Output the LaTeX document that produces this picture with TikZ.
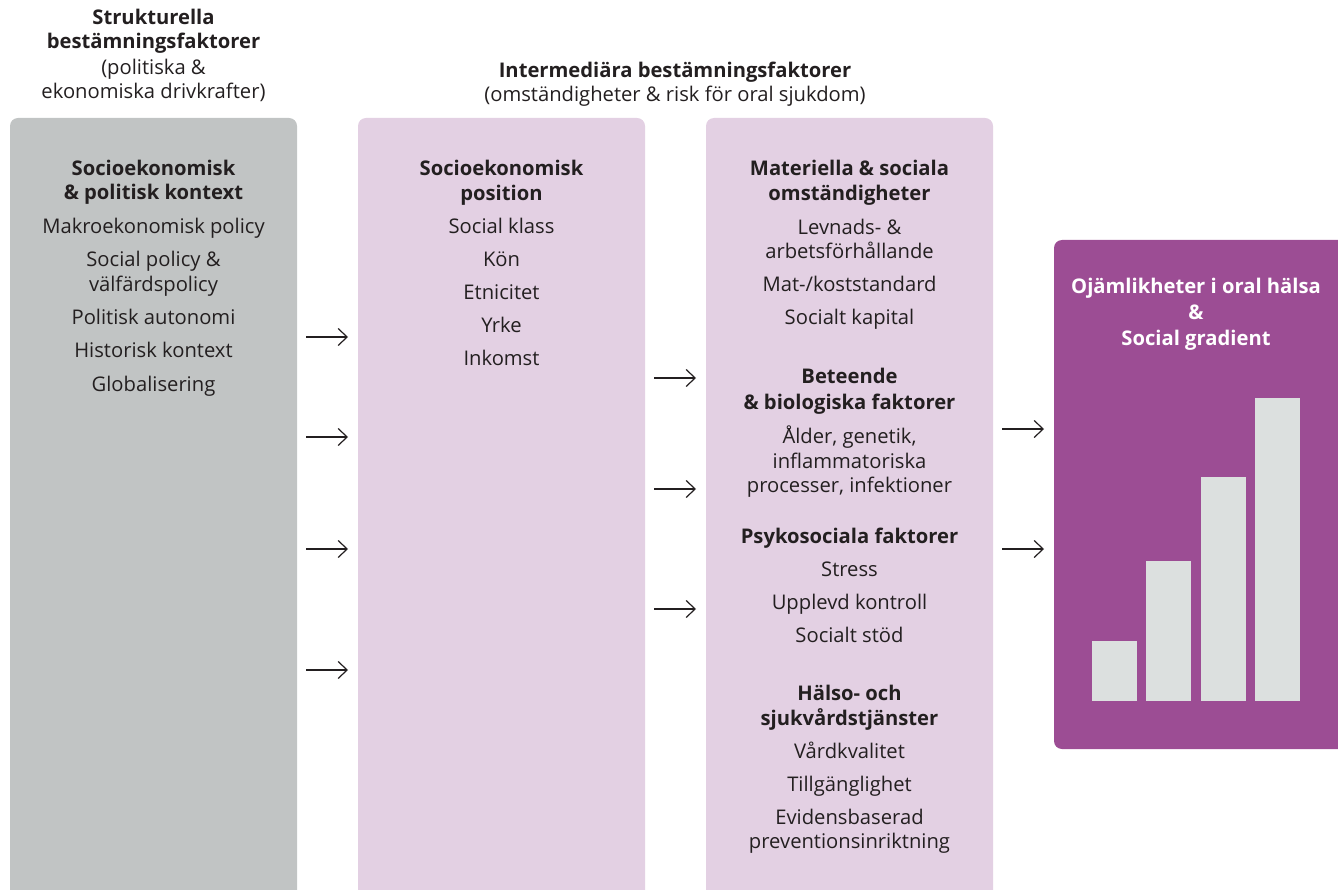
\documentclass[tikz,border=0pt]{standalone}
\usepackage{fontspec}
\setmainfont{Open Sans}
\usetikzlibrary{arrows.meta}
\definecolor{txt}{HTML}{231F20}
\definecolor{panelgray}{HTML}{C1C4C4}
\definecolor{panelpink}{HTML}{E3D0E3}
\definecolor{panelpurple}{HTML}{9C4D94}
\definecolor{barc}{HTML}{DCE0DF}
\begin{document}
\begin{tikzpicture}[x=1pt,y=-1pt,
  it/.style={anchor=base, font=\fontsize{20.2}{24}\selectfont, text=txt, inner sep=0pt},
  hd/.style={it, font=\fontsize{20.2}{24}\selectfont\bfseries},
  wh/.style={anchor=base, font=\fontsize{20.2}{24}\selectfont\bfseries, text=white, inner sep=0pt},
  panel/.style={rounded corners=8pt, inner sep=0pt, draw=none},
  bar/.style={fill=barc, draw=none},
  arr/.style={-{Straight Barb[length=9pt,width=17pt]}, line width=1.2pt, draw=txt}]
\useasboundingbox (0,0) rectangle (1338,890);
\clip (0,0) rectangle (1338,890);
% panels
\node[panel, fill=panelgray, minimum width=287pt, minimum height=792pt] (g) at (153.5,514) {};
\node[panel, fill=panelpink, minimum width=287pt, minimum height=792pt] (p1) at (501.5,514) {};
\node[panel, fill=panelpink, minimum width=287pt, minimum height=792pt] (p2) at (849.5,514) {};
\node[panel, fill=panelpurple, minimum width=300pt, minimum height=509pt] (pu) at (1204,494.5) {};
% headers
\node[hd] (h1a) at (153.5,25) {Strukturella};
\node[hd] (h1b) at (153.5,49) {bestämningsfaktorer};
\node[it] (h1c) at (153.5,75) {(politiska \&};
\node[it] (h1d) at (153.5,99) {ekonomiska drivkrafter)};
\node[hd] (h2a) at (675,78) {Intermediära bestämningsfaktorer};
\node[it] (h2b) at (675,102) {(omständigheter \& risk för oral sjukdom)};
% gray panel
\node[hd] (g1) at (153.5,176) {Socioekonomisk};
\node[hd] (g2) at (153.5,200) {\& politisk kontext};
\node[it] (g3) at (153.5,234) {Makroekonomisk policy};
\node[it] (g4) at (153.5,267) {Social policy \&};
\node[it] (g5) at (153.5,292) {välfärdspolicy};
\node[it] (g6) at (153.5,325) {Politisk autonomi};
\node[it] (g7) at (153.5,358) {Historisk kontext};
\node[it] (g8) at (153.5,391) {Globalisering};
% pink panel 1
\node[hd] (a1) at (501.5,176) {Socioekonomisk};
\node[hd] (a2) at (501.5,201) {position};
\node[it] (a3) at (501.5,234) {Social klass};
\node[it] (a4) at (501.5,267) {Kön};
\node[it] (a5) at (501.5,300) {Etnicitet};
\node[it] (a6) at (501.5,333) {Yrke};
\node[it] (a7) at (501.5,366) {Inkomst};
% pink panel 2
\node[hd] (b1) at (849.5,176) {Materiella \& sociala};
\node[hd] (b2) at (849.5,201) {omständigheter};
\node[it] (b3) at (849.5,235) {Levnads- \&};
\node[it] (b4) at (849.5,259) {arbetsförhållande};
\node[it] (b5) at (849.5,292) {Mat-/koststandard};
\node[it] (b6) at (849.5,325) {Socialt kapital};
\node[hd] (b7) at (849.5,384) {Beteende};
\node[hd] (b8) at (849.5,409) {\& biologiska faktorer};
\node[it] (b9) at (849.5,443) {Ålder, genetik,};
\node[it] (b10) at (849.5,468) {inflammatoriska};
\node[it] (b11) at (849.5,492) {processer, infektioner};
\node[hd] (b12) at (849.5,543) {Psykosociala faktorer};
\node[it] (b13) at (849.5,576) {Stress};
\node[it] (b14) at (849.5,609) {Upplevd kontroll};
\node[it] (b15) at (849.5,642) {Socialt stöd};
\node[hd] (b16) at (849.5,700) {Hälso- och};
\node[hd] (b17) at (849.5,725) {sjukvårdstjänster};
\node[it] (b18) at (849.5,758) {Vårdkvalitet};
\node[it] (b19) at (849.5,791) {Tillgänglighet};
\node[it] (b20) at (849.5,824) {Evidensbaserad};
\node[it] (b21) at (849.5,848) {preventionsinriktning};
% purple panel
\node[wh] (c1) at (1196,294) {Ojämlikheter i oral hälsa};
\node[wh] (c2) at (1196,320) {\&};
\node[wh] (c3) at (1196,345) {Social gradient};
\fill[bar] (1092,641) rectangle (1137,701);
\fill[bar] (1146,561) rectangle (1191,701);
\fill[bar] (1201,477) rectangle (1246,701);
\fill[bar] (1255,398) rectangle (1300,701);
% arrows
\foreach \n/\yy in {1/337,2/437,3/549,4/670}{
  \coordinate (ls\n) at (306,\yy); \coordinate (le\n) at (348,\yy);
  \draw[arr] (ls\n) -- (le\n);}
\foreach \n/\yy in {1/378,2/489,3/609}{
  \coordinate (ms\n) at (654,\yy); \coordinate (me\n) at (696,\yy);
  \draw[arr] (ms\n) -- (me\n);}
\foreach \n/\yy in {1/429,2/549}{
  \coordinate (rs\n) at (1002,\yy); \coordinate (re\n) at (1044,\yy);
  \draw[arr] (rs\n) -- (re\n);}
\end{tikzpicture}
\end{document}
